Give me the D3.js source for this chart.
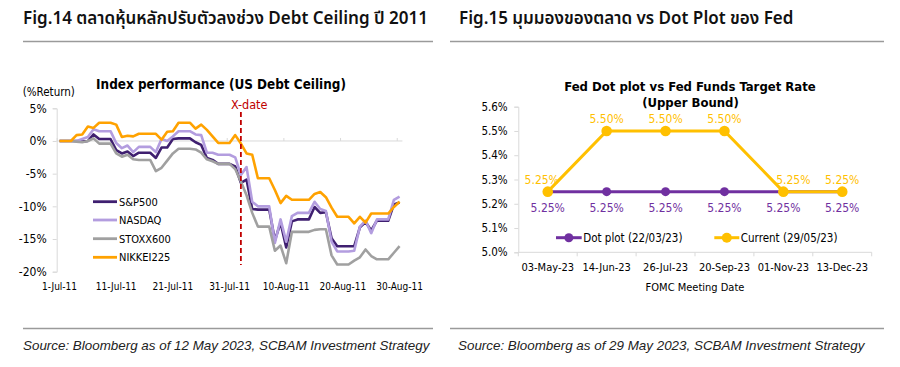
<!DOCTYPE html>
<html><head><meta charset="utf-8">
<script src="https://cdn.jsdelivr.net/npm/d3@7"></script>
<style>
body{margin:0;background:#fff;}
svg{display:block;}
</style></head><body>
<svg id="c" width="900" height="367"></svg>
<script>
// ---------------- DATA ----------------
const fig14Title = "Fig.14 ตลาดหุ้นหลักปรับตัวลงช่วง Debt Ceiling ปี 2011";
const fig15Title = "Fig.15 มุมมองของตลาด vs Dot Plot ของ Fed";
const source14 = "Source: Bloomberg as of 12 May 2023, SCBAM Investment Strategy";
const source15 = "Source: Bloomberg as of 29 May 2023, SCBAM Investment Strategy";

// Left chart: calendar days 1-Jul-2011 .. 30-Aug-2011 (% return)
const perfDates = d3.timeDays(new Date(2011, 6, 1), new Date(2011, 7, 31));
const sp500 = [0,0,0,0,-0.1,0.0,1.0,0.3,0.3,0.3,
  -1.4,-1.9,-1.6,-2.3,-1.8,-1.8,-1.8,-2.6,-1.0,-1.0,
  0.3,0.4,0.4,0.4,-0.2,-0.6,-2.6,-2.9,-3.5,-3.5,
  -3.5,-3.9,-6.4,-5.9,-10.4,-10.5,-10.5,-10.5,-15.2,-12.5,
  -16.3,-12.3,-12.0,-12.0,-12.0,-10.1,-11.0,-10.9,-14.9,-16.1,
  -16.1,-16.1,-16.1,-13.2,-12.4,-13.7,-12.2,-12.2,-12.2,-9.7,-9.4];
const nasdaq = [0,0,0,0,0.3,0.6,1.8,1.5,1.5,1.5,
  -0.3,-1.1,-0.7,-1.7,-0.9,-0.9,-0.9,-1.7,0.3,0.0,
  0.7,1.5,1.5,1.5,1.0,0.9,-1.8,-1.8,-2.1,-2.1,
  -2.1,-2.5,-5.2,-4.0,-9.3,-10.0,-10.0,-10.0,-15.6,-12.0,
  -15.4,-11.5,-11.0,-11.0,-11.0,-9.3,-10.4,-10.7,-15.4,-16.9,
  -16.9,-16.9,-16.8,-13.1,-12.2,-14.1,-12.0,-12.0,-12.0,-9.0,-8.5];
const stoxx600 = [0,0,0,-0.1,-0.2,0.0,0.4,-0.4,-0.4,-0.4,
  -1.9,-2.4,-2.1,-2.8,-2.9,-2.9,-2.9,-4.6,-4.1,-3.0,
  -1.9,-1.2,-1.2,-1.2,-1.3,-1.8,-2.8,-3.1,-3.5,-3.5,
  -3.5,-4.3,-6.2,-8.3,-11.0,-13.1,-13.1,-13.1,-16.8,-16.0,
  -18.7,-13.9,-13.9,-13.9,-13.9,-13.6,-13.5,-13.5,-17.5,-18.9,
  -18.9,-18.9,-18.3,-17.8,-16.6,-17.6,-18.1,-18.1,-18.1,-17.1,-16.1];
const nikkei225 = [0,0,0,0.9,1.0,2.2,2.0,2.8,2.8,2.8,
  2.5,0.6,0.8,0.7,1.1,1.1,1.1,1.1,0.2,1.4,
  1.5,2.8,2.8,2.8,1.9,2.5,1.7,0.7,-0.3,-0.3,
  -0.3,0.9,-0.4,-1.9,-2.1,-5.7,-5.7,-5.7,-7.5,-9.5,
  -8.4,-9.0,-9.0,-9.0,-9.0,-8.1,-7.8,-8.6,-10.2,-11.6,
  -11.6,-11.6,-12.6,-11.6,-12.5,-11.1,-11.1,-11.1,-11.1,-10.1,-9.3];
const perfSeriesNames = ["S&P500","NASDAQ","STOXX600","NIKKEI225"];
const perfYTicks = [-20,-15,-10,-5,0,5];
const perfXTickLabels = ["1-Jul-11","11-Jul-11","21-Jul-11","31-Jul-11","10-Aug-11","20-Aug-11","30-Aug-11"];
const perfXTickDates = [new Date(2011,6,1),new Date(2011,6,11),new Date(2011,6,21),new Date(2011,6,31),new Date(2011,7,10),new Date(2011,7,20),new Date(2011,7,30)];
const xDate = new Date(2011, 7, 2);

// Right chart
const fomcDates = ["03-May-23","14-Jun-23","26-Jul-23","20-Sep-23","01-Nov-23","13-Dec-23"];
const dotPlot = [5.25,5.25,5.25,5.25,5.25,5.25];
const current = [5.25,5.50,5.50,5.50,5.25,5.25];
const fedYTicks = [5.0,5.1,5.2,5.3,5.4,5.5,5.6];

// ---------------- STYLE ----------------
const CF = '"DejaVu Sans Condensed","DejaVu Sans",sans-serif';
const HF = '"Noto Sans Thai","Noto Sans","Open Sans",sans-serif';
const SF = '"Liberation Sans",Arial,sans-serif';
const perfColors = ["#3f1f70","#b39ddf","#a0a0a0","#ffa200"];
const purple = "#7030a0", gold = "#ffc000", axisGrey = "#d9d9d9";

const svg = d3.select("#c");
svg.style("font-stretch","condensed");

// ---------------- HEADERS / FRAME ----------------
function header(x, y, t){
  svg.append("text").attr("x",x).attr("y",y).text(t)
    .style("font-family",HF).style("font-size","17px").style("font-weight","600")
    .style("font-stretch","normal").attr("fill","#111");
}
header(23, 24, fig14Title);
header(459, 24, fig15Title);
[[23,433],[450,884]].forEach(([a,b])=>{
  svg.append("line").attr("x1",a).attr("x2",b).attr("y1",41.5).attr("y2",41.5).attr("stroke","#9a9a9a").attr("stroke-width",1.3);
  svg.append("line").attr("x1",a).attr("x2",b).attr("y1",328.5).attr("y2",328.5).attr("stroke","#9a9a9a").attr("stroke-width",1.3);
});
function src(x, t){
  svg.append("text").attr("x",x).attr("y",349.5).text(t)
    .style("font-family",SF).style("font-size","13.4px").style("font-style","italic")
    .style("font-stretch","normal").attr("fill","#222");
}
src(23, source14);
src(458, source15);

// ---------------- LEFT CHART ----------------
const L = svg.append("g");
const day = 12*3600*1000;
const xL = d3.scaleTime()
  .domain([new Date(perfDates[0].getTime()-day), new Date(perfDates[perfDates.length-1].getTime()+day)])
  .range([56.7, 402.4]);
const yL = d3.scaleLinear().domain([-20,5]).range([271.7,108.3]);

const yAxL = L.append("g").attr("transform","translate(56.7,0)")
  .call(d3.axisLeft(yL).tickValues(perfYTicks).tickFormat(d=>d+"%").tickSize(4).tickPadding(6));
yAxL.select(".domain").attr("stroke",axisGrey);
yAxL.selectAll(".tick line").attr("stroke",axisGrey);
yAxL.selectAll("text").style("font-family",CF).style("font-size","12px").attr("fill","#000");

// zero line with ticks
L.append("line").attr("x1",56.7).attr("x2",402.4).attr("y1",yL(0)).attr("y2",yL(0)).attr("stroke",axisGrey).attr("stroke-width",1);
const xAxL = L.append("g").attr("transform",`translate(0,${yL(0)})`)
  .call(d3.axisTop(xL).tickValues(perfXTickDates.map(d=>new Date(d.getTime()-day))).tickSize(3).tickFormat(""));
xAxL.select(".domain").remove();
xAxL.selectAll(".tick line").attr("stroke",axisGrey);

// x labels
L.selectAll(".xl").data(perfXTickDates).enter().append("text")
  .attr("x",d=>xL(d)).attr("y",290).attr("text-anchor","middle")
  .text((d,i)=>perfXTickLabels[i])
  .style("font-family",CF).style("font-size","10px").attr("fill","#000");

// lines
const perfData = [sp500, nasdaq, stoxx600, nikkei225];
const lineL = d3.line().x((d,i)=>xL(perfDates[i])).y(d=>yL(d));
perfData.forEach((s,k)=>{
  L.append("path").datum(s).attr("d",lineL).attr("fill","none")
    .attr("stroke",perfColors[k]).attr("stroke-width",2.6).attr("stroke-linejoin","round");
});

// X-date
const xd = xL(xDate);
L.append("line").attr("x1",xd).attr("x2",xd).attr("y1",112).attr("y2",265)
  .attr("stroke","#c00000").attr("stroke-width",1.8).attr("stroke-dasharray","5,3");
L.append("text").attr("x",xd-10).attr("y",109).text("X-date")
  .style("font-family",CF).style("font-size","12.5px").attr("fill","#c00000");

// title & unit
L.append("text").attr("x",221).attr("y",89).attr("text-anchor","middle")
  .text("Index performance (US Debt Ceiling)")
  .style("font-family",CF).style("font-size","13.4px").style("font-weight","bold").attr("fill","#000");
L.append("text").attr("x",22.7).attr("y",95.5).text("(%Return)")
  .style("font-family",CF).style("font-size","11.5px").attr("fill","#000");

// legend
const legY = [201.7,220,238.7,257.3];
perfSeriesNames.forEach((n,k)=>{
  L.append("line").attr("x1",93).attr("x2",117).attr("y1",legY[k]).attr("y2",legY[k])
    .attr("stroke",perfColors[k]).attr("stroke-width",2.8);
  L.append("text").attr("x",119).attr("y",legY[k]+4).text(n)
    .style("font-family",CF).style("font-size","11px").attr("fill","#000");
});

// ---------------- RIGHT CHART ----------------
const R = svg.append("g");
const xR = d3.scaleBand().domain(fomcDates).range([518.3, 871.7]);
const yR = d3.scaleLinear().domain([5.0,5.6]).range([252.3,106.7]);
const cx = d=>xR(d)+xR.bandwidth()/2;

const yAxR = R.append("g").attr("transform","translate(518.3,0)")
  .call(d3.axisLeft(yR).tickValues(fedYTicks).tickFormat(d=>d.toFixed(1)+"%").tickSize(4).tickPadding(6.6));
yAxR.select(".domain").attr("stroke",axisGrey);
yAxR.selectAll(".tick line").attr("stroke",axisGrey);
yAxR.selectAll("text").style("font-family",CF).style("font-size","11.5px").attr("fill","#000");

R.append("line").attr("x1",518.3).attr("x2",871.7).attr("y1",yR(5.0)).attr("y2",yR(5.0)).attr("stroke",axisGrey);
R.selectAll(".bt").data(d3.range(fomcDates.length+1)).enter().append("line")
  .attr("x1",i=>518.3+i*xR.step()).attr("x2",i=>518.3+i*xR.step())
  .attr("y1",yR(5.0)).attr("y2",yR(5.0)+4).attr("stroke",axisGrey);
R.selectAll(".xr").data(fomcDates).enter().append("text")
  .attr("x",d=>cx(d)).attr("y",270.5).attr("text-anchor","middle").text(d=>d)
  .style("font-family",CF).style("font-size","11px").attr("fill","#000");
R.append("text").attr("x",695).attr("y",291).attr("text-anchor","middle").text("FOMC Meeting Date")
  .style("font-family",CF).style("font-size","11px").attr("fill","#000");

// title
R.append("text").attr("x",690).attr("y",91).attr("text-anchor","middle").text("Fed Dot plot vs Fed Funds Target Rate")
  .style("font-family",CF).style("font-size","13px").style("font-weight","bold").attr("fill","#000");
R.append("text").attr("x",690.5).attr("y",107).attr("text-anchor","middle").text("(Upper Bound)")
  .style("font-family",CF).style("font-size","13px").style("font-weight","bold").attr("fill","#000");

const lineR = d3.line().x((d,i)=>cx(fomcDates[i])).y(d=>yR(d));
// dot plot
R.append("path").datum(dotPlot).attr("d",lineR).attr("fill","none").attr("stroke",purple).attr("stroke-width",3);
R.selectAll(".pd").data(dotPlot).enter().append("circle")
  .attr("cx",(d,i)=>cx(fomcDates[i])).attr("cy",d=>yR(d)).attr("r",4.5).attr("fill",purple);
// current
R.append("path").datum(current).attr("d",lineR).attr("fill","none").attr("stroke",gold).attr("stroke-width",3);
R.selectAll(".cd").data(current).enter().append("circle")
  .attr("cx",(d,i)=>cx(fomcDates[i])).attr("cy",d=>yR(d)).attr("r",5.3).attr("fill",gold);

// labels
const goldShift = [-6,0,0,0,10,0];
R.selectAll(".cl").data(current).enter().append("text")
  .attr("x",(d,i)=>cx(fomcDates[i])+goldShift[i]).attr("y",d=>yR(d)-8)
  .attr("text-anchor","middle").text(d=>d.toFixed(2)+"%")
  .style("font-family",CF).style("font-size","12px").attr("fill",gold);
R.selectAll(".pl").data(dotPlot).enter().append("text")
  .attr("x",(d,i)=>cx(fomcDates[i])).attr("y",d=>yR(d)+20)
  .attr("text-anchor","middle").text(d=>d.toFixed(2)+"%")
  .style("font-family",CF).style("font-size","12px").attr("fill",purple);

// legend
[[556,581.7,purple,4.5,"Dot plot (22/03/23)"],[714.3,739.3,gold,5,"Current (29/05/23)"]].forEach(([a,b,c,r,t])=>{
  R.append("line").attr("x1",a).attr("x2",b).attr("y1",237.7).attr("y2",237.7).attr("stroke",c).attr("stroke-width",3);
  R.append("circle").attr("cx",(a+b)/2).attr("cy",237.7).attr("r",r).attr("fill",c);
  R.append("text").attr("x",b+1.5).attr("y",241.7).text(t)
    .style("font-family",CF).style("font-size","11.5px").attr("fill","#000");
});
</script></body></html>
